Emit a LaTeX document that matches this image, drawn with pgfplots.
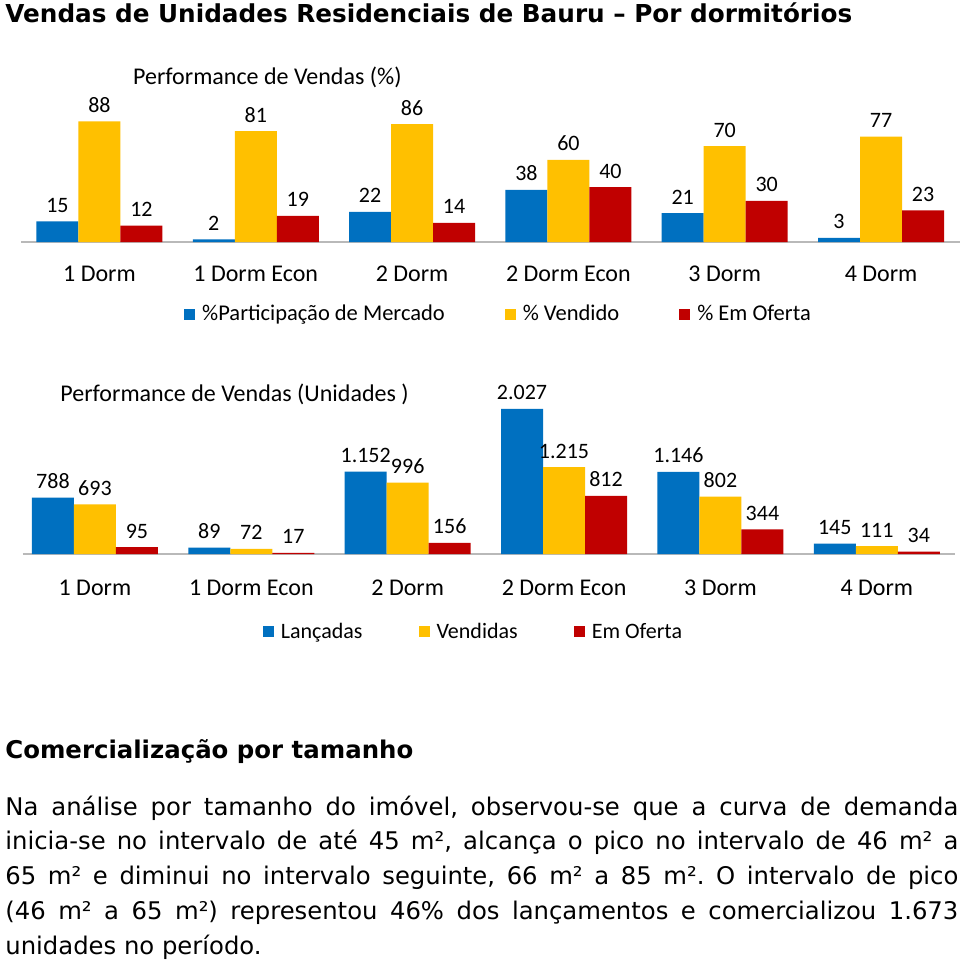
\documentclass[border=0pt]{standalone}
\usepackage{fontspec}
\setmainfont{DejaVu Sans}
\newfontfamily\calibri{Carlito}
\usepackage{pgfplots}
\usepackage{pgfplotstable}
\pgfplotsset{compat=1.18}
\definecolor{cblue}{HTML}{0070C0}
\definecolor{cyellow}{HTML}{FFC000}
\definecolor{cred}{HTML}{C00000}
\frenchspacing

\pgfplotstableread{
x y lab
0 15 15
1 2 2
2 22 22
3 38 38
4 21 21
5 3 3
}\pA
\pgfplotstableread{
x y lab
0 88 88
1 81 81
2 86 86
3 60 60
4 70 70
5 77 77
}\pB
\pgfplotstableread{
x y lab
0 12 12
1 19 19
2 14 14
3 40 40
4 30 30
5 23 23
}\pC
\pgfplotstableread{
x y lab
0 788 788
1 89 89
2 1152 1.152
3 2027 2.027
4 1146 1.146
5 145 145
}\uA
\pgfplotstableread{
x y lab
0 693 693
1 72 72
2 996 996
3 1215 1.215
4 802 802
5 111 111
}\uB
\pgfplotstableread{
x y lab
0 95 95
1 17 17
2 156 156
3 812 812
4 344 344
5 34 34
}\uC

\pgfplotsset{mybars/.style={
  ybar=0pt, bar width=21pt, scale only axis,
  axis x line*=bottom, axis y line=none,
  axis line style={-, draw=gray!55, line width=0.9pt},
  xtick={0,...,5},
  xticklabels={1 Dorm,1 Dorm Econ,2 Dorm,2 Dorm Econ,3 Dorm,4 Dorm},
  xtick style={draw=none}, major tick length=0pt,
  ymin=0, clip=false,
  xticklabel style={font=\calibri\fontsize{12}{14}\selectfont, anchor=base},
  nodes near coords, point meta=explicit symbolic,
  every node near coord/.append style={font=\calibri\fontsize{11}{13}\selectfont, anchor=base, yshift=4.5pt, text=black},
  legend style={draw=none, fill=none, legend columns=3, anchor=center,
    font=\calibri\fontsize{11}{13}\selectfont,
    /tikz/every even column/.append style={column sep=28pt}},
  legend image code/.code={\fill[##1] (0pt,-2.75pt) rectangle (5.5pt,2.75pt); \path (7pt,0pt);},
  every axis title/.style={font=\calibri\fontsize{12}{14}\selectfont, anchor=base west, inner sep=0pt},
}}

\begin{document}
\begin{tikzpicture}
\path[use as bounding box, fill=white] (0,0) rectangle (480pt,-480pt);

\node[anchor=base west, inner sep=0pt] at (2.5pt,-11pt)
  {\bfseries\fontsize{12.35}{14}\selectfont Vendas de Unidades Residenciais de Bauru – Por dormitórios};

\begin{axis}[mybars,
  at={(10.5pt,-121pt)}, anchor=south west,
  width=469.5pt, height=68.5pt,
  xmin=-0.502, xmax=5.505, ymax=100,
  xticklabel style={yshift=-19.5pt},
  title={Performance de Vendas (\%)},
  title style={at={(0.119,1.153)}},
  legend style={at={(0.5096,-0.5255)}, font=\calibri\fontsize{11.25}{13}\selectfont},
]
\addplot[fill=cblue, draw=none] table[x=x,y=y,meta=lab] {\pA};
\addplot[fill=cyellow, draw=none] table[x=x,y=y,meta=lab] {\pB};
\addplot[fill=cred, draw=none] table[x=x,y=y,meta=lab] {\pC};
\legend{\%Participação de Mercado, \% Vendido, \% Em Oferta}
\end{axis}

\begin{axis}[mybars,
  at={(11.5pt,-277pt)}, anchor=south west,
  width=466pt, height=78.75pt,
  xmin=-0.46, xmax=5.5, ymax=2200,
  xticklabel style={yshift=-20.5pt},
  title={Performance de Vendas (Unidades )},
  title style={at={(0.0397,0.971)}},
  legend style={at={(0.4844,-0.495)},
    /tikz/every even column/.append style={column sep=26pt}},
]
\addplot[fill=cblue, draw=none] table[x=x,y=y,meta=lab] {\uA};
\addplot[fill=cyellow, draw=none] table[x=x,y=y,meta=lab] {\uB};
\addplot[fill=cred, draw=none] table[x=x,y=y,meta=lab] {\uC};
\legend{Lançadas, Vendidas, Em Oferta}
\end{axis}

\node[anchor=base west, inner sep=0pt] at (2.5pt,-379pt)
  {\bfseries\fontsize{12.2}{14}\selectfont Comercialização por tamanho};

\node[anchor=base west, inner sep=0pt] at (2.5pt,-407.5pt)
  {\parbox[t]{476.5pt}{\fontsize{12.15}{17.4}\selectfont
  \makebox[\linewidth][s]{Na análise por tamanho do imóvel, observou-se que a curva de demanda}\\
  \makebox[\linewidth][s]{inicia-se no intervalo de até 45 m², alcança o pico no intervalo de 46 m² a}\\
  \makebox[\linewidth][s]{65 m² e diminui no intervalo seguinte, 66 m² a 85 m². O intervalo de pico}\\
  \makebox[\linewidth][s]{(46 m² a 65 m²) representou 46\% dos lançamentos e comercializou 1.673}\\
  unidades no período.}};
\end{tikzpicture}
\end{document}
